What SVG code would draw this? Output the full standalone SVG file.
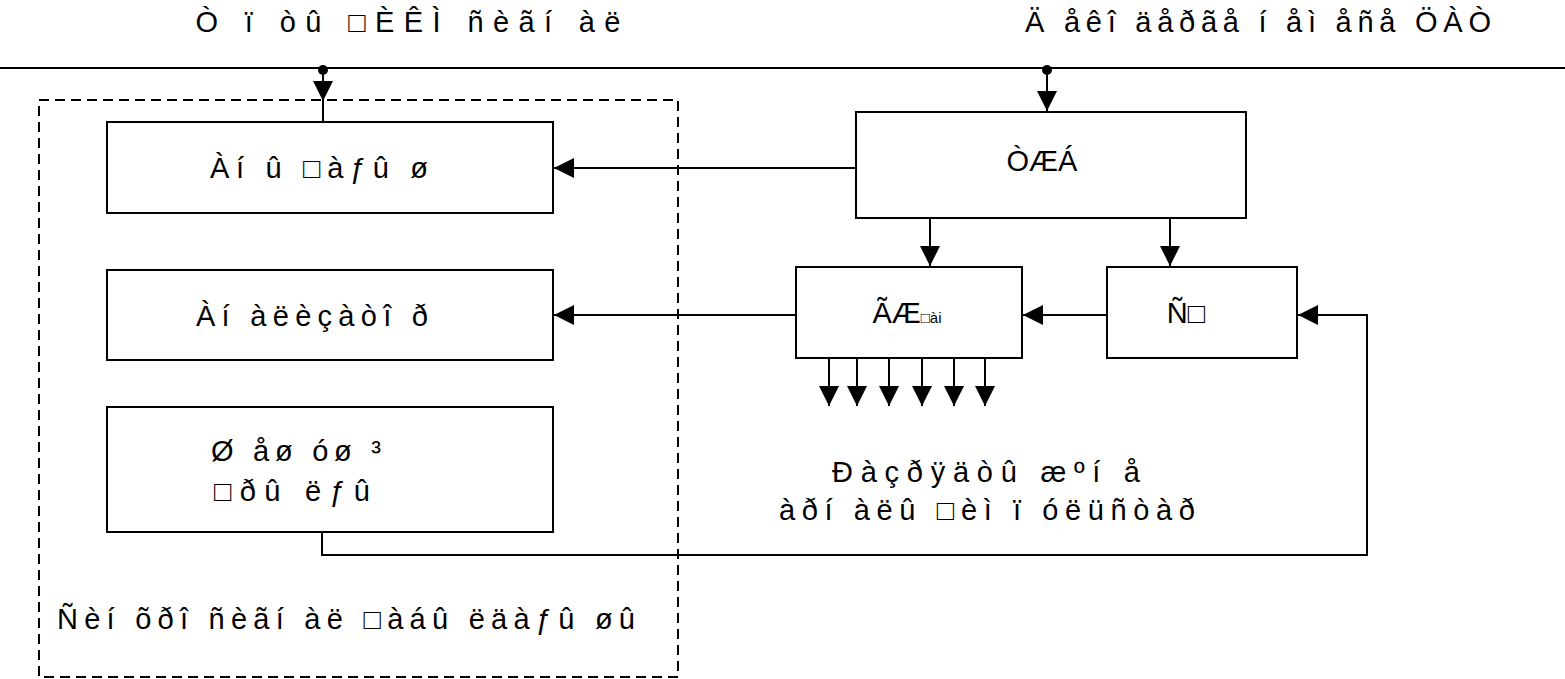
<svg xmlns="http://www.w3.org/2000/svg" width="1565" height="679" viewBox="0 0 1565 679">
<defs>
<style>
.n{fill:#fff;stroke:#000;stroke-width:2}
.c{fill:none;stroke:#000;stroke-width:2}
.t{font-family:"Liberation Sans","DejaVu Sans",sans-serif;font-size:29px;fill:#000}
.d{fill:none;stroke:#000;stroke-width:2;stroke-dasharray:10 6}
</style>
<marker id="ahb" viewBox="0 0 10 10" refX="10" refY="5" markerWidth="20" markerHeight="20" markerUnits="userSpaceOnUse" orient="auto">
<path d="M0,0 L10,5 L0,10 z" fill="#000"/>
</marker>
</defs>
<rect width="1565" height="679" fill="#fff"/>
<g id="bus">
<line x1="0" y1="68" x2="1565" y2="68" class="c"/>
<circle cx="323" cy="70" r="5" fill="#000"/>
<circle cx="1047" cy="70" r="5" fill="#000"/>
<text class="t" x="408" y="32" text-anchor="middle" textLength="425" lengthAdjust="spacing">Ò ï òû □ÈÊÌ  ñèãí àë</text>
<text class="t" x="1258" y="32" text-anchor="middle" textLength="466" lengthAdjust="spacing">Ä åêî äåðãå í åì åñå ÖÀÒ</text>
</g>
<g id="sync-receiver">
<rect x="39" y="100" width="639" height="577" class="d"/>
<text class="t" x="346" y="629" text-anchor="middle" textLength="578" lengthAdjust="spacing">Ñèí õðî ñèãí àë □àáû ëäàƒû øû</text>
</g>
<g id="node-detector">
<rect x="107" y="122" width="446" height="91" class="n"/>
<text class="t" x="319" y="178" text-anchor="middle" textLength="218" lengthAdjust="spacing">Àí û □àƒû ø</text>
</g>
<g id="node-analyzer">
<rect x="107" y="270" width="446" height="90" class="n"/>
<text class="t" x="312" y="326" text-anchor="middle" textLength="232" lengthAdjust="spacing">Àí àëèçàòî ð</text>
</g>
<g id="node-decider">
<rect x="107" y="407" width="446" height="125" class="n"/>
<text class="t" x="296" y="461" text-anchor="middle" textLength="170" lengthAdjust="spacing">Ø åø óø ³</text>
<text class="t" x="292" y="501" text-anchor="middle" textLength="156" lengthAdjust="spacing">□ðû ëƒû</text>
</g>
<g id="node-tzhb">
<rect x="856" y="112" width="390" height="106" class="n"/>
<text class="t" x="1042" y="171" text-anchor="middle">ÒÆÁ</text>
</g>
<g id="node-gzh">
<rect x="796" y="267" width="226" height="91" class="n"/>
<text class="t" x="907" y="323" text-anchor="middle">ÃÆ<tspan font-size="15">□ài</tspan></text>
</g>
<g id="node-sk">
<rect x="1107" y="267" width="190" height="91" class="n"/>
<text class="t" x="1186" y="323" text-anchor="middle">Ñ□</text>
</g>
<g id="label-outputs">
<text class="t" x="986" y="482" text-anchor="middle" textLength="308" lengthAdjust="spacing">Ðàçðÿäòû æºí å</text>
<text class="t" x="987" y="520" text-anchor="middle" textLength="416" lengthAdjust="spacing">àðí àëû □èì ï óëüñòàð</text>
</g>
<g id="connectors">
<line x1="323" y1="70" x2="323" y2="101" class="c" marker-end="url(#ahb)"/>
<line x1="323" y1="100" x2="323" y2="122" class="c"/>
<line x1="1047" y1="70" x2="1047" y2="111" class="c" marker-end="url(#ahb)"/>
<line x1="856" y1="168" x2="554" y2="168" class="c" marker-end="url(#ahb)"/>
<line x1="930" y1="218" x2="930" y2="266" class="c" marker-end="url(#ahb)"/>
<line x1="1170" y1="218" x2="1170" y2="266" class="c" marker-end="url(#ahb)"/>
<line x1="1107" y1="315" x2="1023" y2="315" class="c" marker-end="url(#ahb)"/>
<line x1="796" y1="315" x2="554" y2="315" class="c" marker-end="url(#ahb)"/>
<polyline points="322,532 322,555 1367,555 1367,315 1298,315" class="c" marker-end="url(#ahb)"/>
<line x1="829" y1="358" x2="829" y2="406" class="c" marker-end="url(#ahb)"/>
<line x1="857" y1="358" x2="857" y2="406" class="c" marker-end="url(#ahb)"/>
<line x1="889" y1="358" x2="889" y2="406" class="c" marker-end="url(#ahb)"/>
<line x1="922" y1="358" x2="922" y2="406" class="c" marker-end="url(#ahb)"/>
<line x1="954" y1="358" x2="954" y2="406" class="c" marker-end="url(#ahb)"/>
<line x1="985" y1="358" x2="985" y2="406" class="c" marker-end="url(#ahb)"/>
</g>
</svg>
